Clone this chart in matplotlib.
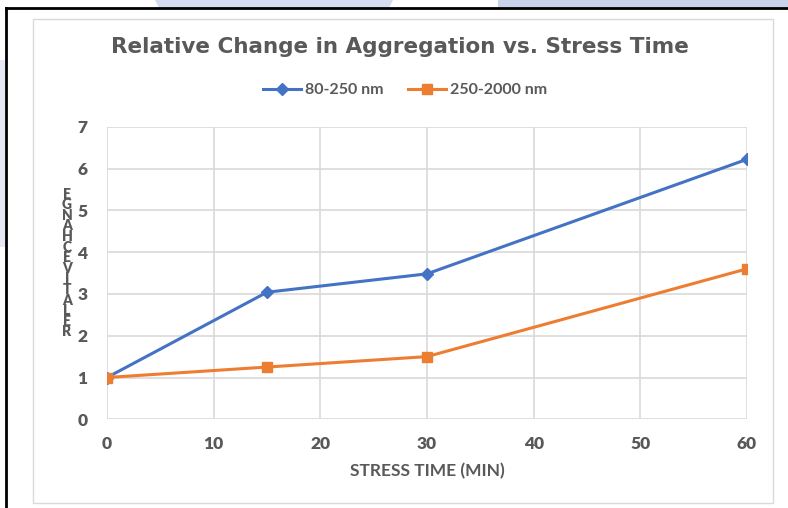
import matplotlib
matplotlib.use("Agg")
import matplotlib.pyplot as plt
from matplotlib.patches import Polygon, Rectangle
from matplotlib.lines import Line2D

# ---- data ----
stress_time = [0, 15, 30, 60]
small_agg = [1.0, 3.04, 3.48, 6.22]      # 80-250 nm
large_agg = [1.0, 1.25, 1.50, 3.60]      # 250-2000 nm
series_names = ["80-250 nm", "250-2000 nm"]
x_ticks = [0, 10, 20, 30, 40, 50, 60]
y_ticks = [0, 1, 2, 3, 4, 5, 6, 7]
title = "Relative Change in Aggregation vs. Stress Time"
x_label = "STRESS TIME (MIN)"
y_label = "RELATIVE CHANGE"

BLUE = "#4472C4"
ORANGE = "#ED7D31"
GRAY = "#595959"
GRID = "#D9D9D9"

plt.rcParams['font.family'] = ['Lato', 'DejaVu Sans']

W, H = 788, 508
fig = plt.figure(figsize=(W / 100, H / 100), dpi=100)
fig.patch.set_facecolor("white")

def fx(px):
    return px / W

def fy(py):
    return 1 - py / H

# background decorations
fig.patches.append(Polygon([[fx(155), fy(0)], [fx(393), fy(0)], [fx(389), fy(8)], [fx(159), fy(8)]],
                           closed=True, transform=fig.transFigure, facecolor="#D6DCEF", edgecolor="none", zorder=0))
fig.patches.append(Rectangle((fx(498), fy(8)), fx(788) - fx(498), 8 / H, transform=fig.transFigure,
                             facecolor="#C9D3EA", edgecolor="none", zorder=0))
fig.patches.append(Rectangle((0, fy(247)), fx(5), (247 - 60) / H, transform=fig.transFigure,
                             facecolor="#E6E9F5", edgecolor="none", zorder=0))
# black frame
fig.lines.append(Line2D([fx(6), fx(788)], [fy(8), fy(8)], transform=fig.transFigure, color="black", lw=2, zorder=1))
fig.lines.append(Line2D([fx(6), fx(6)], [fy(8), fy(508)], transform=fig.transFigure, color="black", lw=2, zorder=1))
# chart area border
fig.patches.append(Rectangle((fx(33), fy(503)), fx(773) - fx(33), (503 - 19) / H, transform=fig.transFigure,
                             facecolor="none", edgecolor="#D9D9D9", lw=1, zorder=1))

ax = fig.add_axes([fx(107), fy(419.3), fx(747) - fx(107), (419.3 - 126.7) / H])
ax.set_facecolor("none")

ax.plot(stress_time, small_agg, color=BLUE, lw=2.2, marker="D", markersize=6.5, label=series_names[0], zorder=3)
ax.plot(stress_time, large_agg, color=ORANGE, lw=2.2, marker="s", markersize=7.5, label=series_names[1], zorder=3)

ax.set_xlim(0, 60)
ax.set_ylim(0, 7)
ax.set_xticks(x_ticks)
ax.set_yticks(y_ticks)
ax.grid(True, color=GRID, lw=1.2)
ax.set_axisbelow(True)
for s in ax.spines.values():
    s.set_visible(False)
ax.tick_params(length=0, labelsize=12.5, colors=GRAY, pad=12)
for lab in ax.get_xticklabels() + ax.get_yticklabels():
    lab.set_fontweight("heavy")
ax.tick_params(axis="y", pad=14)

ax.set_xlabel(x_label, fontsize=12.5, fontweight="bold", color=GRAY, labelpad=8)

fig.text(fx(400), fy(47), title, ha="center", va="center", fontsize=15.5, fontweight="bold",
         color=GRAY, family=["DejaVu Sans"])

leg = fig.legend(loc="center", bbox_to_anchor=(fx(405), fy(90)), ncol=2, frameon=False,
                 fontsize=11.5, handlelength=2.4, columnspacing=1.5, handletextpad=0.25)
for t in leg.get_texts():
    t.set_fontweight("bold")
    t.set_color(GRAY)

# stacked vertical axis label (reversed letters, as in the reference)
letters = [c for c in y_label[::-1] if c != " "]
fig.text(fx(67), fy(263), "\n".join(letters), ha="center", va="center", ma="center",
         fontsize=10, fontweight="heavy", color=GRAY, linespacing=0.78)

fig.savefig("out.png", dpi=100)
